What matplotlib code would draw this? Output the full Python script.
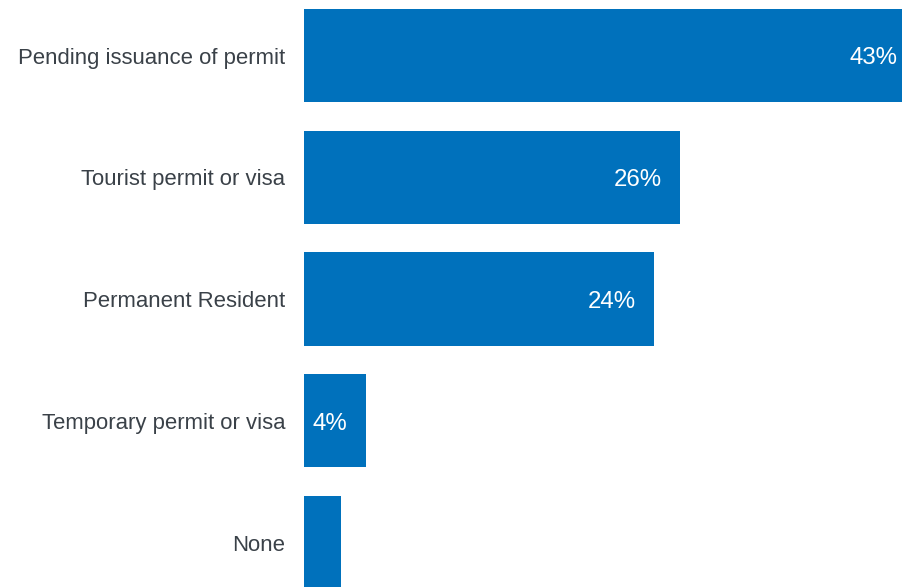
import numpy as np
import matplotlib.pyplot as plt

categories = ["Pending issuance of permit", "Tourist permit or visa",
              "Permanent Resident", "Temporary permit or visa", "None"]
values = [42.6, 26.2, 24.4, 4.3, 2.6]
show_label = [True, True, True, True, False]

plt.rcParams['font.family'] = ['Liberation Sans', 'DejaVu Sans']

fig = plt.figure(figsize=(9.03, 5.87), dpi=100)
ax = fig.add_axes([304 / 903, 0, 599 / 903, 1])

y = np.arange(len(categories))
ax.barh(y, values, height=0.765, color="#0071bc")

ax.set_xlim(0, 599 / 14.35)
ax.set_ylim(4.365, -0.456)
ax.set_yticks(y)
ax.set_yticklabels(categories, fontsize=15.95, color="#3a4148")
ax.tick_params(axis='y', length=0, pad=13.5)
ax.set_xticks([])
for s in ax.spines.values():
    s.set_visible(False)

# value labels inside the right end of each bar
for yi, v, show in zip(y, values, show_label):
    if not show:
        continue
    ax.annotate(f"{v:.0f}%", xy=(v, yi), xytext=(-13, -2), textcoords="offset points",
                ha="right", va="center", color="white", fontsize=17.3,
                annotation_clip=False)

fig.savefig("out.png", dpi=100)
